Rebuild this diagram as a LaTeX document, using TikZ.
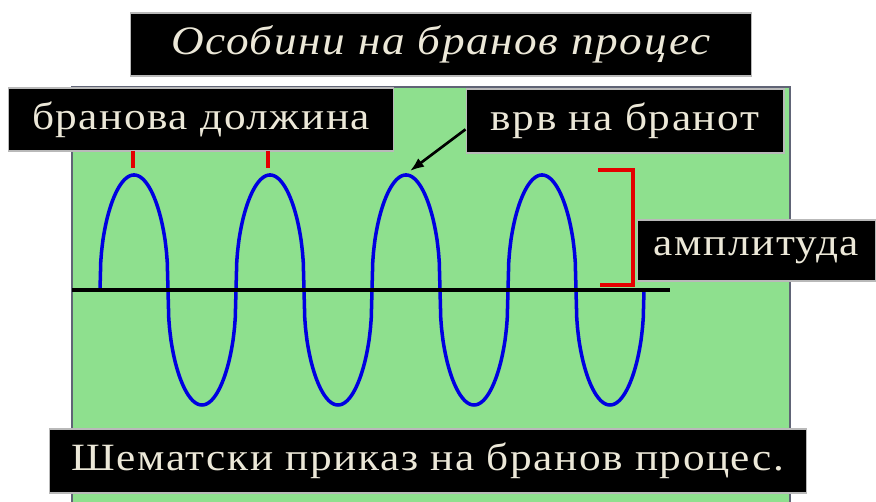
\documentclass[tikz,border=0pt]{standalone}
\usepackage{fontspec}
\setmainfont{Liberation Serif}
\newfontfamily\boxfont[FakeStretch=1.12, LetterSpace=4]{Liberation Serif}
\usetikzlibrary{arrows.meta}
\definecolor{panelgreen}{RGB}{142,224,142}
\definecolor{panelgrey}{RGB}{96,100,118}
\definecolor{labelcream}{RGB}{236,232,216}
\definecolor{waveblue}{RGB}{0,0,225}
\definecolor{markred}{RGB}{228,0,0}

\begin{document}
\begin{tikzpicture}[
    x=0.02cm, y=-0.02cm, >=Latex,
    every node/.style={align=center},
    label_box/.style={fill=black, draw=gray!55, line width=0.6pt, text=labelcream, inner sep=0pt,
        font=\boxfont\fontsize{22}{26}\selectfont},
    title_style/.style={label_box, font=\boxfont\itshape\fontsize{23}{27}\selectfont},
    wave_line/.style={waveblue, line width=2pt, line join=round},
    axis_line/.style={black, line width=2.3pt},
    red_mark/.style={markred, line width=2pt},
    pointer/.style={-{Latex[length=8pt, width=6pt]}, black, line width=1.5pt}
]
\useasboundingbox (0,0) rectangle (876,502);
\fill[white] (0,0) rectangle (876,502);
\fill[panelgreen] (72,87) rectangle (790,502);
\draw[panelgrey, line width=1.2pt] (72,502) -- (72,87) -- (790,87) -- (790,502);

\node (title_box) [title_style, minimum width=12.44cm, minimum height=1.26cm] at (441,44.5) {Особини на бранов процес};

\draw[wave_line] (100,290) \foreach \k in {0,...,7}{
    -- plot[domain=0:180, samples=91] ({100+68*\k+68*\x/180}, {290-(1-2*mod(\k,2))*115*abs(sin(\x))^0.42})
};
\draw[axis_line] (72,290) -- (670,290);

\node (wavelength_label) [label_box, minimum width=7.72cm, minimum height=1.26cm] at (201,119.5) {бранова должина};
\node (crest_label) [label_box, minimum width=6.36cm, minimum height=1.28cm] at (625,121) {врв на бранот};
\node (amplitude_label) [label_box, minimum width=4.78cm, minimum height=1.22cm] at (756.5,250.5) {амплитуда};
\node (caption_label) [label_box, minimum width=15.16cm, minimum height=1.28cm] at (428,461) {Шематски приказ на бранов процес.};

\coordinate (third_crest) at (410,171);
\draw[red_mark] (133,151) -- (133,168);
\draw[red_mark] (268,151) -- (268,168);
\draw[red_mark] (598,170) -- (633,170) -- (633,285) -- (600,285);
\draw[pointer] (crest_label.183) -- (third_crest);
\end{tikzpicture}
\end{document}
